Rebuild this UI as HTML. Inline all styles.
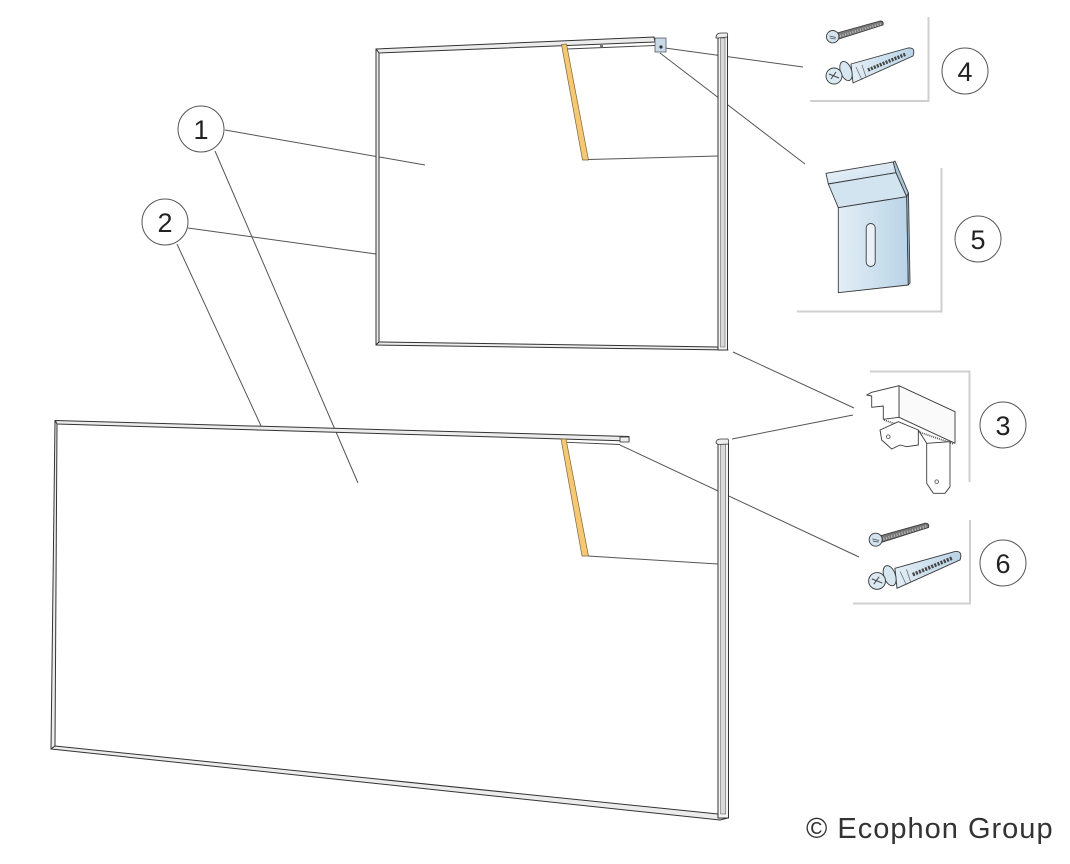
<!DOCTYPE html>
<html>
<head>
<meta charset="utf-8">
<style>
  html,body{margin:0;padding:0;background:#fff;}
  body{width:1070px;height:864px;overflow:hidden;}
  svg{display:block;}
  .lead{stroke:#555;stroke-width:1;fill:none;}
  .frame{stroke:#cfcfcf;stroke-width:2;fill:none;}
  .edge{stroke:#333;stroke-width:1;fill:#ececec;stroke-linejoin:round;}
  .circ{stroke:#555;stroke-width:1;fill:#fff;}
  .num{font-family:"Liberation Sans",Arial,sans-serif;font-size:27px;fill:#222;text-anchor:middle;}
  .hw{stroke:#3a3a3a;stroke-width:0.9;stroke-linejoin:round;}
</style>
</head>
<body>
<svg width="1070" height="864" viewBox="0 0 1070 864" xmlns="http://www.w3.org/2000/svg">
  <defs>
    <linearGradient id="blue" x1="0" y1="0" x2="1" y2="0">
      <stop offset="0" stop-color="#e3eef6"/>
      <stop offset="1" stop-color="#b9d4e7"/>
    </linearGradient>
    <linearGradient id="blue2" x1="0" y1="0" x2="1" y2="1">
      <stop offset="0" stop-color="#eef5fa"/>
      <stop offset="1" stop-color="#c8dded"/>
    </linearGradient>
    <g id="anchor">
      <!-- small screw -->
      <path class="hw" d="M837,33 L880,21 Q884,21 883,25 L839,39 Z" fill="#777"/>
      <line x1="840" y1="36" x2="881" y2="24" stroke="#bbb" stroke-width="2.5" stroke-dasharray="1 1.6"/>
      <circle class="hw" cx="832.7" cy="36.7" r="6.2" fill="#d3e3ef"/>
      <path d="M829.5,36 L836,37.5 M830,38 L835.5,39" stroke="#555" stroke-width="0.8"/>
      <!-- anchor body -->
      <path class="hw" d="M851,64 L908,48 Q916,47 913,56 L853,83 Z" fill="url(#blue)"/>
      <path d="M868,70 L906,54" stroke="#444" stroke-width="3.5" stroke-dasharray="2 1.2"/>
      <path d="M856,67 L862,80 M862,65 L866,77" stroke="#666" stroke-width="0.7"/>
      <!-- washer -->
      <ellipse class="hw" cx="846" cy="71" rx="5.5" ry="10" transform="rotate(-20 846 71)" fill="#d7e7f2"/>
      <!-- screw head -->
      <circle class="hw" cx="834" cy="76" r="8" fill="#dbe9f3"/>
      <path d="M829,74 L839,78 M831,79 L836,72" stroke="#444" stroke-width="1"/>
    </g>
  </defs>

  <!-- ===== leader lines ===== -->
  <line class="lead" x1="225" y1="130" x2="425" y2="165"/>
  <line class="lead" x1="215" y1="151" x2="358" y2="483"/>
  <line class="lead" x1="188" y1="228" x2="376" y2="254"/>
  <line class="lead" x1="177" y1="244" x2="262" y2="428"/>
  <line class="lead" x1="665" y1="48" x2="803" y2="67"/>
  <line class="lead" x1="660" y1="53" x2="805" y2="164"/>
  <line class="lead" x1="733" y1="352" x2="854" y2="408"/>
  <line class="lead" x1="732" y1="439" x2="853" y2="415"/>
  <line class="lead" x1="620" y1="445" x2="859" y2="557"/>

  <!-- ===== TOP PANEL ===== -->
  <polygon class="edge" points="376,49 654,37 655,42 379,53"/>
  <line x1="567" y1="49" x2="655" y2="45.5" stroke="#444" stroke-width="0.9"/>
  <rect x="600" y="45" width="3" height="2" fill="#777"/>
  <polygon class="edge" points="376,49 379,53 379,342 376,345"/>
  <polygon class="edge" points="376,345 379,342 718,347 728,350"/>
  <rect x="718" y="36" width="9.5" height="314" fill="#f4f4f4" stroke="#333" stroke-width="1"/>
  <rect x="720.5" y="38" width="4.5" height="309" fill="#d9d9d9" stroke="#666" stroke-width="0.6"/>
  <path d="M716,38 Q716,33 721,33 L727,33 Q728,34 727.5,37 L718,38 Z" fill="#eee" stroke="#333" stroke-width="0.8"/>
  <polygon points="561.5,44.5 566.5,44 588.5,160 582.5,160" fill="#f7c874" stroke="#7b6436" stroke-width="0.7"/>
  <line x1="588" y1="159.5" x2="718" y2="156" stroke="#555" stroke-width="1"/>
  <rect x="655" y="38" width="11" height="14" fill="#c9d9e6" stroke="#556" stroke-width="0.8"/>
  <circle cx="661" cy="47" r="1.6" fill="#333"/>

  <!-- ===== LOWER PANEL ===== -->
  <polygon class="edge" points="55,420.5 629,436.5 629,441 57,424"/>
  <rect x="620" y="437" width="9" height="5" fill="#eee" stroke="#333" stroke-width="0.8"/>
  <line x1="567" y1="442.3" x2="620" y2="444.5" stroke="#444" stroke-width="0.9"/>
  <polygon class="edge" points="55,420.5 57,424 55,746 51,749"/>
  <polygon class="edge" points="51,749 55,746 718,814 728,818 720,820"/>
  <rect x="718" y="442" width="10.5" height="376" fill="#f4f4f4" stroke="#333" stroke-width="1"/>
  <rect x="720.7" y="444" width="5" height="370" fill="#d9d9d9" stroke="#666" stroke-width="0.6"/>
  <path d="M716,443 Q716,439 721,439 L728,439 Q729,441 728.5,444 L718,444.5 Z" fill="#eee" stroke="#333" stroke-width="0.8"/>
  <polygon points="561,439 566,439 588.5,556 582,556" fill="#f7c874" stroke="#7b6436" stroke-width="0.7"/>
  <line x1="588" y1="556" x2="718" y2="564" stroke="#555" stroke-width="1"/>

  <!-- ===== HARDWARE FRAMES ===== -->
  <path class="frame" d="M810,101 L928.5,101 L928.5,17"/>
  <path class="frame" d="M797,311.5 L941.5,311.5 L941.5,168"/>
  <path class="frame" d="M870,371.5 L969.5,371.5 L969.5,482"/>
  <path class="frame" d="M853,603.5 L970,603.5 L970,520"/>

  <!-- hardware 4 -->
  <use href="#anchor"/>
  <!-- hardware 6 -->
  <use href="#anchor" transform="translate(876,540) scale(1.05) translate(-833,-37)"/>

  <!-- hardware 5 bracket -->
  <polygon class="hw" points="826,173.3 893.3,162 896,172.7 828.3,184" fill="url(#blue2)"/>
  <polygon class="hw" points="828.3,184 896,172.7 906.7,196.7 838.3,207.7" fill="#d2e4f0"/>
  <polygon class="hw" points="893.3,162 895,161 908.5,193 906.7,196.7 896,172.7" fill="#aac6da"/>
  <polygon class="hw" points="838.3,207.7 906.7,196.7 908.3,285 838.3,292.7" fill="url(#blue)"/>
  <polygon class="hw" points="906.7,196.7 908.5,193 910,283 908.3,285" fill="#9fbdd3"/>
  <rect class="hw" x="866.2" y="223.5" width="9" height="43" rx="4.5" fill="#eaf2f8"/>

  <!-- hardware 3 bracket -->
  <polygon class="hw" points="899,385.7 955,411.7 955,443.3 899,417.3" fill="#fafafa"/>
  <polygon class="hw" points="866.7,395 871.7,392.3 899,385.7 899,417.3 883.3,419.3 883.3,406 871.7,407.3 871.7,396" fill="#fff"/>
  <line x1="884" y1="420" x2="954" y2="444" stroke="#555" stroke-width="1.8" stroke-dasharray="1 1"/>
  <polygon class="hw" points="880,430 898.3,421.7 918.3,430 918.3,445 906.7,446.7 900,445 891.7,449 881.7,440" fill="#fff"/>
  <polygon class="hw" points="926.7,443.3 950,441.7 950,486.7 945,493.3 933.3,493.3 926.7,483.3" fill="#fff"/>
  <line x1="918.3" y1="430" x2="926.7" y2="443.3" stroke="#3a3a3a" stroke-width="0.9"/>
  <circle cx="888.3" cy="436.7" r="1.8" fill="#fff" stroke="#444" stroke-width="0.8"/>
  <circle cx="936.7" cy="481.7" r="1.8" fill="#fff" stroke="#444" stroke-width="0.8"/>

  <!-- ===== CALLOUT CIRCLES ===== -->
  <circle class="circ" cx="201" cy="129" r="23"/>
  <text class="num" x="201" y="139">1</text>
  <circle class="circ" cx="165" cy="222" r="23"/>
  <text class="num" x="165" y="232">2</text>
  <circle class="circ" cx="1003" cy="425" r="23"/>
  <text class="num" x="1003" y="435">3</text>
  <circle class="circ" cx="965" cy="71" r="23"/>
  <text class="num" x="965" y="81">4</text>
  <circle class="circ" cx="978" cy="239" r="23"/>
  <text class="num" x="978" y="249">5</text>
  <circle class="circ" cx="1003" cy="563" r="23"/>
  <text class="num" x="1003" y="573">6</text>

  <!-- copyright -->
  <text x="806" y="838" font-family="'Liberation Sans', Arial, sans-serif" font-size="29" letter-spacing="1" fill="#333">© Ecophon Group</text>
</svg>
</body>
</html>
